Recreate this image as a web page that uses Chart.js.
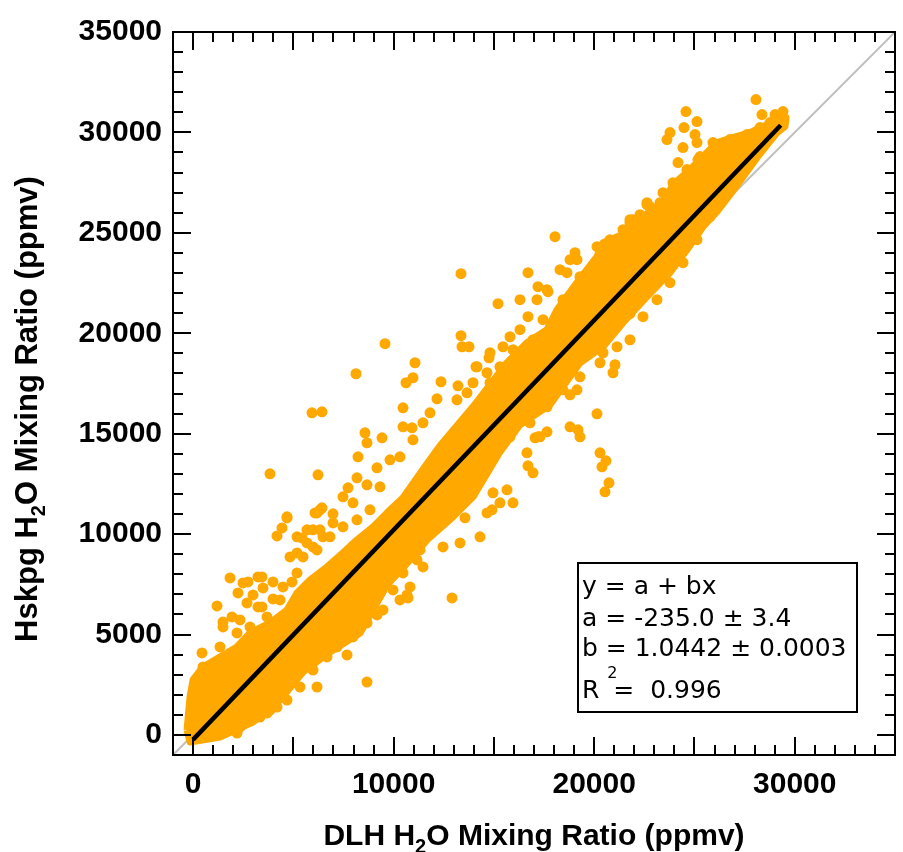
<!DOCTYPE html>
<html>
<head>
<meta charset="utf-8">
<script src="https://cdn.jsdelivr.net/npm/chart.js@4.4.1/dist/chart.umd.min.js"></script>
<style>
  body { margin: 0; background: #fff; }
  #wrap { width: 903px; height: 852px; }
</style>
</head>
<body>
<div id="wrap"><canvas id="scatterGraph" width="903" height="852"></canvas></div>
<script>
// axis ticks
var xTickVals = [0, 10000, 20000, 30000];
var yTickVals = [0, 5000, 10000, 15000, 20000, 25000, 30000, 35000];
var majorVals = [0, 5000, 10000, 15000, 20000, 25000, 30000, 35000];

// fit line (y = -235 + 1.0442x)
var fitX = [0, 29300];
var fitY = [-235, 30360];

// 1:1 reference line
var oneX = [-1000, 35000];
var oneY = [-1000, 35000];

// outline of the dense core of the cloud (upper edge, then lower edge back)
var coreX = [-300, -152, -3, 496, 1343, 2191, 2839, 3836, 4684, 5183, 5831, 6678, 7476, 8174, 8972, 9670, 10468, 11664, 12313, 13958, 15653, 16650, 17648, 18146, 19143, 20141, 20440, 21636, 22434, 23431, 23930, 24778, 25426, 26124, 26922, 27769, 28617, 29265, 29565,
  29515, 29115, 28118, 26772, 26124, 25426, 24628, 23780, 22634, 21437, 20440, 19293, 17797, 16301, 15304, 13958, 12961, 11664, 10468, 9670, 8324, 6828, 5482, 4335, 2989, 1343, -152, -300];
var coreY = [244, 1888, 2735, 3383, 3881, 4379, 5077, 5575, 6223, 7070, 7718, 8365, 9063, 9711, 10359, 11056, 11804, 13498, 14395, 16339, 18531, 19528, 20176, 21172, 22518, 23813, 24511, 25009, 25806, 26504, 27401, 28148, 28796, 29494, 29743, 29992, 30391, 30789, 30740,
  30291, 29992, 28746, 26903, 26056, 25308, 24162, 23016, 21820, 20524, 19328, 18531, 16438, 15442, 14096, 11854, 10857, 9711, 8316, 7469, 5077, 4130, 3134, 1738, 643, -105, -354, 244];

// points along the ragged edge of the core
var edgeX = [9171, 9820, 10318, 10966, 9321, 8673, 7476, 7975, 6978, 5980, 5681, 6479, 11814, 13160, 13659, 14656, 15304, 15952, 16950,
  13310, 11964, 11315, 10668, 10318, 14656, 15653, 16950, 15952, 15304,
  20141, 20789, 21786, 22634, 23282, 23780, 19143, 18296, 19293, 17648, 17149, 18445, 17449, 16301, 15803, 15454, 14806, 14158, 13958, 14806, 16800,
  21138, 21786, 22434, 23132, 23780, 24429, 25127, 20440, 19293, 18445, 17648, 16800, 15803,
  496, 1343, 994, 2191, 2839, 2341, 3687, 4335, 4485, 5183, 5482, 5980, 6828, 7476, 8174, 8822, 5183, 6330,
  1343, 2341, 3338, 4186, 4684, 5332, 5980, 6678, 7177, 7975, 8673, 9471, 10318, 10817, 10468, 11166,
  26772, 27620, 28268, 28767, 25277, 24628, 23930, 23431, 22783, 21936, 21437, 20789,
  27769, 27121, 26423, 25775, 25127, 24429, 23780, 28418, 29115];
var edgeY = [13299, 13698, 13847, 14694, 12352, 12452, 11854, 11555, 10558, 10210, 9562, 9861, 16040, 16687, 17036, 18033, 18332, 19179, 19677,
  9562, 10210, 9213, 8714, 8216, 11056, 12204, 13049, 11555, 11555,
  24311, 24660, 25507, 26504, 26504, 26803, 23664, 23165, 22816, 22168, 21670, 21670, 20673, 20175, 19826, 19328, 19029, 18332, 17535, 17535, 18531,
  19328, 19677, 20823, 21670, 22518, 23514, 24660, 19029, 17833, 17186, 16339, 15541, 14844,
  3383, 4379, 3233, 5077, 5376, 5725, 5874, 6721, 7369, 8067, 8864, 9362, 9861, 10359, 10708, 11206, 9063, 10210,
  95, 394, 892, 1390, 1738, 2386, 3233, 3881, 4379, 4877, 5575, 6223, 6721, 7369, 8067, 8714,
  29643, 29892, 30241, 30490, 28796, 28148, 27500, 27002, 26305, 25657, 25159, 24511,
  28647, 27650, 26654, 25806, 25159, 24312, 23664, 29643, 30142];

// scattered points outside the core
var outX = [9570, 8124, 11066, 13360, 13360, 13410, 13759, 10966, 10618, 12362, 13210, 14108, 14756, 10468, 12163, 5931, 6429, 8573, 8673, 9421, 11465, 10468, 10917, 8224, 6230, 8174, 7726, 6978, 6330, 6080,
  16650, 16700, 14955, 14905, 13559, 14307, 12462, 11465, 17199, 17648, 18047, 16700, 15205, 16301, 17199, 17698, 18645, 19044, 18795, 16700, 18545, 21786, 21038, 20939, 20291, 19144, 18795, 18296, 20141,
  18795, 19194, 19293, 17299, 17050, 20291, 20590, 20390, 20739, 20540, 24578, 25127, 24479, 23780, 23631, 25027, 25127, 24429, 24180, 25177, 28069, 28368, 29016, 29415, 25924, 21786, 22634, 22783, 22285,
  1842, 1194, 1493, 1493, 1942, 446, 197, 2490, 2740, 3238, 3438, 3986, 3487, 2241, 2989, 3986, 2690, 3238, 3438, 4933, 4186, 4435, 4684, 5183, 5432, 5681, 6180, 6429, 6180, 4834,
  7676, 6180, 8673, 9172, 10668, 10717, 9970, 8822, 8075, 8324, 6678, 3836, 2191, 3687, 3836, 4684, 12911];
var outY = [19478, 17983, 18531, 22966, 19877, 19328, 19328, 17784, 17535, 17585, 17385, 18332, 18780, 16289, 16737, 16040, 16090, 15043, 14545, 14795, 15541, 15342, 15292, 13847, 12950, 12800, 12302, 11007, 11206, 11056,
  14046, 13398, 12053, 11206, 10808, 9861, 9362, 8365, 14844, 15093, 24810, 23016, 21471, 21670, 22318, 22069, 23016, 24012, 23663, 20823, 21521, 20973, 18432, 18033, 18531, 17186, 16937, 17236, 15990,
  15342, 15193, 14844, 14844, 14794, 14046, 13647, 13348, 12551, 12103, 31038, 30540, 30241, 29992, 29643, 29892, 29494, 29244, 28497, 28646, 31636, 30889, 30889, 31039, 29494, 25657, 26405, 26255, 25906,
  7818, 6422, 5625, 5376, 5874, 4080, 2635, 7568, 7618, 7867, 7867, 7618, 7319, 7070, 6970, 6771, 6572, 6373, 6373, 7618, 9910, 10309, 10807, 9861, 9811, 10210, 11056, 11305, 9213, 8864,
  3981, 2386, 2635, 5974, 6970, 6821, 7219, 7070, 5725, 5376, 5376, 1240, 95, 1091, 13001, 10857, 6821];

// fit results box
var fitLines = ["y = a + bx", "a = -235.0 \u00B1 3.4", "b = 1.0442 \u00B1 0.0003"];
var fitR2 = "0.996";

var ORANGE = "#FFA800";
var tickFont = { family: "Liberation Sans", size: 30, weight: "bold" };

function pairs(xs, ys) {
	return xs.map(function (x, i) { return { x: x, y: ys[i] }; });
}

var framePlugin = {
	id: "frame",
	afterDatasetsDraw: function (chart) {
		var ctx = chart.ctx, a = chart.chartArea;
		var xs = chart.scales.x, ys = chart.scales.y;
		ctx.save();
		ctx.strokeStyle = "#000";
		ctx.lineWidth = 2;
		ctx.strokeRect(a.left, a.top, a.right - a.left, a.bottom - a.top);
		ctx.beginPath();
		for (var v = 0; v <= 35000; v += 1000) {
			var len = majorVals.indexOf(v) >= 0 ? 18 : 10;
			var px = Math.round(xs.getPixelForValue(v));
			ctx.moveTo(px, a.bottom); ctx.lineTo(px, a.bottom - len);
			ctx.moveTo(px, a.top); ctx.lineTo(px, a.top + len);
			var py = Math.round(ys.getPixelForValue(v));
			ctx.moveTo(a.left, py); ctx.lineTo(a.left + len, py);
			ctx.moveTo(a.right, py); ctx.lineTo(a.right - len, py);
		}
		ctx.stroke();

		// fit box
		var bx = a.right - 317, by = a.bottom - 192, bw = 279, bh = 149;
		ctx.fillStyle = "#fff";
		ctx.fillRect(bx, by, bw, bh);
		ctx.strokeRect(bx, by, bw, bh);
		ctx.fillStyle = "#000";
		ctx.font = "25px 'DejaVu Sans'";
		ctx.textBaseline = "alphabetic";
		ctx.textAlign = "left";
		var base = [31, 63, 93];
		fitLines.forEach(function (t, i) { ctx.fillText(t, bx + 4, by + base[i]); });
		var rx = bx + 4, rb = by + 135;
		ctx.fillText("R", rx, rb);
		var wR = ctx.measureText("R").width;
		ctx.fillText(" =  " + fitR2, rx + wR + 6, rb);
		ctx.font = "16px 'DejaVu Sans'";
		ctx.fillText("2", rx + wR + 8, rb - 20);
		ctx.restore();
	},
	afterDraw: function (chart) {
		var ctx = chart.ctx, a = chart.chartArea;
		ctx.save();
		ctx.fillStyle = "#000";
		ctx.textBaseline = "alphabetic";
		ctx.textAlign = "left";
		function title(pre, post, size) {
			var sub = Math.round(size * 0.66);
			ctx.font = "bold " + size + "px 'Liberation Sans'";
			var w1 = ctx.measureText(pre).width;
			var w3 = ctx.measureText(post).width;
			ctx.font = "bold " + sub + "px 'Liberation Sans'";
			var w2 = ctx.measureText("2").width;
			var x0 = -(w1 + w2 + w3) / 2;
			ctx.font = "bold " + size + "px 'Liberation Sans'";
			ctx.fillText(pre, x0, 0);
			ctx.fillText(post, x0 + w1 + w2, 0);
			ctx.font = "bold " + sub + "px 'Liberation Sans'";
			ctx.fillText("2", x0 + w1, Math.round(size * 0.25));
		}
		ctx.save();
		ctx.translate((a.left + a.right) / 2, 845);
		title("DLH H", "O Mixing Ratio (ppmv)", 30);
		ctx.restore();
		ctx.save();
		ctx.translate(37, 409);
		ctx.rotate(-Math.PI / 2);
		title("Hskpg H", "O Mixing Ratio (ppmv)", 31);
		ctx.restore();
		ctx.restore();
	}
};

var ctx = document.getElementById("scatterGraph").getContext("2d");
var chart = new Chart(ctx, {
	type: "scatter",
	data: {
		datasets: [
			{
				type: "line",
				label: "fit",
				data: pairs(fitX, fitY),
				borderColor: "#000",
				borderWidth: 4.5,
				pointRadius: 0,
				order: 0
			},
			{
				label: "points",
				data: pairs(outX, outY),
				pointRadius: 5.5,
				backgroundColor: ORANGE,
				borderWidth: 0,
				order: 1
			},
			{
				label: "edge",
				data: pairs(edgeX, edgeY),
				pointRadius: 5.5,
				backgroundColor: ORANGE,
				borderWidth: 0,
				order: 1
			},
			{
				type: "line",
				label: "core",
				data: pairs(coreX, coreY),
				fill: "shape",
				backgroundColor: ORANGE,
				borderColor: ORANGE,
				borderWidth: 7,
				borderJoinStyle: "round",
				pointRadius: 0,
				tension: 0,
				order: 2
			},
			{
				type: "line",
				label: "1:1",
				data: pairs(oneX, oneY),
				borderColor: "#c0c0c0",
				borderWidth: 2,
				pointRadius: 0,
				order: 3
			}
		]
	},
	options: {
		responsive: false,
		animation: false,
		layout: { padding: { left: 0, top: 32, right: 8, bottom: 0 } },
		plugins: { legend: { display: false }, tooltip: { enabled: false } },
		scales: {
			x: {
				type: "linear",
				min: -1000,
				max: 35000,
				grid: { display: false, drawTicks: false },
				border: { display: false },
				afterBuildTicks: function (s) { s.ticks = xTickVals.map(function (v) { return { value: v }; }); },
				afterFit: function (s) { s.height = 97; },
				ticks: { font: tickFont, color: "#000", padding: 12, maxRotation: 0, callback: function (v) { return String(v); } }
			},
			y: {
				type: "linear",
				min: -1000,
				max: 35000,
				grid: { display: false, drawTicks: false },
				border: { display: false },
				afterBuildTicks: function (s) { s.ticks = yTickVals.map(function (v) { return { value: v }; }); },
				afterFit: function (s) { s.width = 173; },
				ticks: { font: tickFont, color: "#000", padding: 11, callback: function (v) { return String(v); } }
			}
		}
	},
	plugins: [framePlugin]
});
</script>
</body>
</html>
